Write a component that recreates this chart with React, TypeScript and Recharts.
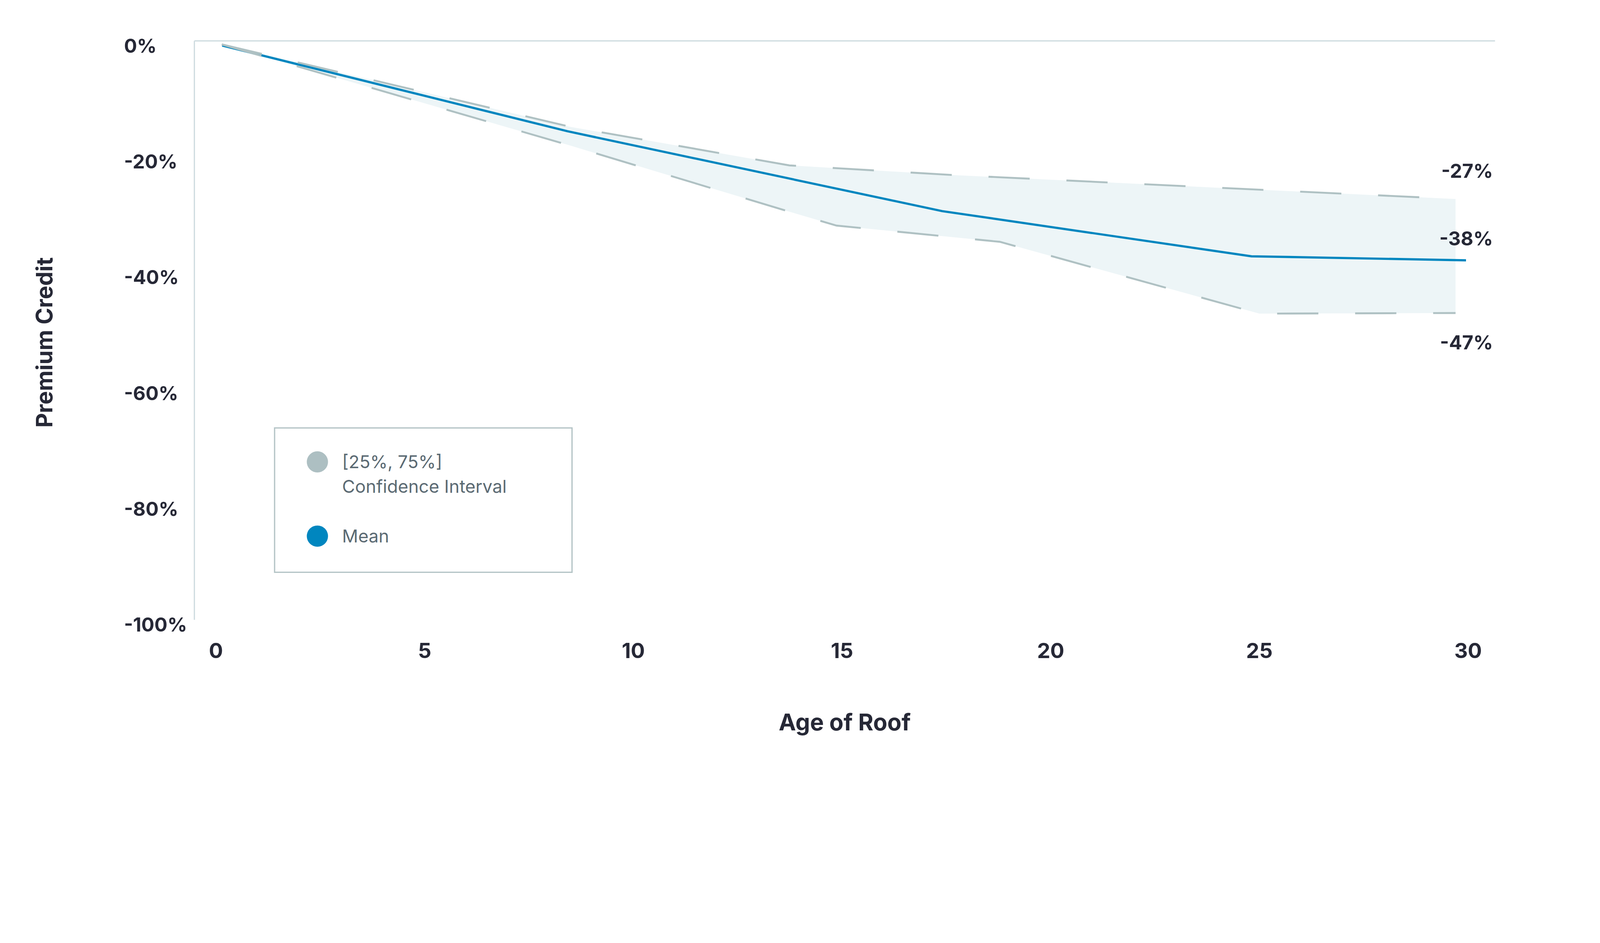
import { ComposedChart, Area, Line, XAxis, YAxis, Legend, Label, ReferenceLine } from 'recharts'

// confidence band at the band's corners
const BAND_AGES = [0.14, 8.5, 13.74, 14.87, 17.62, 18.78, 25.0, 29.7]
const UPPER = [-0.6, -14.85, -21.5, -21.98, -23.15, -23.55, -25.7, -27.3]
const LOWER = [-0.6, -18.1, -29.5, -31.9, -33.87, -34.7, -47.1, -47.0]

// mean line
const MEAN_AGES = [0.15, 8.42, 17.4, 24.81, 29.95]
const MEAN = [-0.8, -15.6, -29.4, -37.2, -37.9]

const X_TICKS = [0, 5, 10, 15, 20, 25, 30]
const Y_TICKS = [0, -20, -40, -60, -80, -100]

const LEGEND_ITEMS = [
  { lines: ['[25%, 75%]', 'Confidence Interval'], color: '#adbfc2' },
  { lines: ['Mean'], color: '#0086bf' }
]

const W = 5046
const H = 2413
const FONT = 'Inter, "Liberation Sans", sans-serif'
const DARK = '#262836'
const AXIS = '#cfdce0'

const bandData = BAND_AGES.map((age, i) => ({
  age,
  upper: UPPER[i],
  lower: LOWER[i],
  band: [LOWER[i], UPPER[i]]
}))

const meanData = MEAN_AGES.map((age, i) => ({ age, mean: MEAN[i] }))

const endLabel = (count: number, dx: number, dy: number) => (props: any) => {
  if (props.index !== count - 1) return null
  return (
    <text
      x={props.x + dx}
      y={props.y + dy}
      textAnchor="end"
      fontFamily={FONT}
      fontWeight={700}
      fontSize={61}
      fill={DARK}
    >
      {Math.round(props.value)}%
    </text>
  )
}

const YTick = ({ x, y, payload }: any) => (
  <text x={x - 222} y={y + 37} textAnchor="start" fontFamily={FONT} fontWeight={700} fontSize={61} fill={DARK}>
    {payload.value}%
  </text>
)

const XTick = ({ x, y, payload }: any) => (
  <text x={x} y={y + 121} textAnchor="middle" fontFamily={FONT} fontWeight={700} fontSize={66} fill={DARK}>
    {payload.value}
  </text>
)

const renderLegend = () => (
  <svg width={942} height={459}>
    <rect x={2} y={2} width={938} height={455} fill="#fff" stroke="#b4c4c6" strokeWidth={4} />
    {LEGEND_ITEMS.map((item, i) => {
      const cy = i === 0 ? 109 : 343
      return (
        <g key={i}>
          <circle cx={137} cy={cy} r={33.5} fill={item.color} />
          {item.lines.map((line, j) => (
            <text
              key={j}
              x={215}
              y={cy + 20 + j * 77}
              fontFamily={FONT}
              fontSize={56}
              fill="#5b6a73"
            >
              {line}
            </text>
          ))}
        </g>
      )
    })}
  </svg>
)

export default function App() {
  // fit the fixed-size chart into whatever width the page really has
  const vw = typeof window !== 'undefined' ? document.documentElement.clientWidth || window.innerWidth : W
  const s = Math.min(1, vw / W)

  return (
    <div style={{ position: 'absolute', left: 0, top: 0, width: W * s, height: H * s, overflow: 'hidden', background: '#fff' }}>
      <div style={{ width: W, height: H, transform: `scale(${s})`, transformOrigin: '0 0' }}>
        <ComposedChart width={W} height={H} margin={{ top: 129, right: 331, bottom: 0, left: 0 }}>
          <XAxis
            dataKey="age"
            type="number"
            domain={[0, 30]}
            ticks={X_TICKS}
            padding={{ left: 68, right: 85 }}
            height={459}
            axisLine={false}
            tickLine={false}
            tickSize={0}
            tickMargin={0}
            tick={<XTick />}
            allowDataOverflow
          >
            <Label
              content={({ viewBox }: any) => (
                <text
                  x={viewBox.x + viewBox.width / 2}
                  y={viewBox.y + 348}
                  textAnchor="middle"
                  fontFamily={FONT}
                  fontWeight={700}
                  fontSize={73}
                  fill={DARK}
                >
                  Age of Roof
                </text>
              )}
            />
          </XAxis>
          <YAxis
            type="number"
            domain={[-100, 0]}
            ticks={Y_TICKS}
            width={613}
            axisLine={{ stroke: AXIS, strokeWidth: 4 }}
            tickLine={false}
            tickSize={0}
            tickMargin={0}
            tick={<YTick />}
            allowDataOverflow
          >
            <Label
              content={({ viewBox }: any) => {
                const cx = 165
                const cy = viewBox.y + viewBox.height / 2 + 38
                return (
                  <text
                    x={cx}
                    y={cy}
                    transform={`rotate(-90 ${cx} ${cy})`}
                    textAnchor="middle"
                    fontFamily={FONT}
                    fontWeight={700}
                    fontSize={71}
                    fill={DARK}
                  >
                    Premium Credit
                  </text>
                )
              }}
            />
          </YAxis>
          <ReferenceLine y={0} stroke={AXIS} strokeWidth={4} />
          <Legend
            layout="vertical"
            align="center"
            verticalAlign="middle"
            content={renderLegend}
            wrapperStyle={{ position: 'absolute', left: 864, top: 1347, width: 942, height: 459 }}
          />
          <Area
            data={bandData}
            dataKey="band"
            type="linear"
            fill="#edf5f7"
            fillOpacity={1}
            stroke="none"
            legendType="none"
            isAnimationActive={false}
          />
          <Line
            data={meanData}
            dataKey="mean"
            type="linear"
            stroke="#0086bf"
            strokeWidth={7}
            dot={false}
            legendType="none"
            isAnimationActive={false}
            label={endLabel(meanData.length, 85, -47)}
          />
          <Line
            data={bandData}
            dataKey="upper"
            type="linear"
            stroke="#afc1c3"
            strokeWidth={6}
            strokeDasharray="130 116"
            dot={false}
            legendType="none"
            isAnimationActive={false}
            label={endLabel(bandData.length, 118, -67)}
          />
          <Line
            data={bandData}
            dataKey="lower"
            type="linear"
            stroke="#afc1c3"
            strokeWidth={6}
            strokeDasharray="130 116"
            dot={false}
            legendType="none"
            isAnimationActive={false}
            label={endLabel(bandData.length, 118, 114)}
          />
        </ComposedChart>
      </div>
    </div>
  )
}
